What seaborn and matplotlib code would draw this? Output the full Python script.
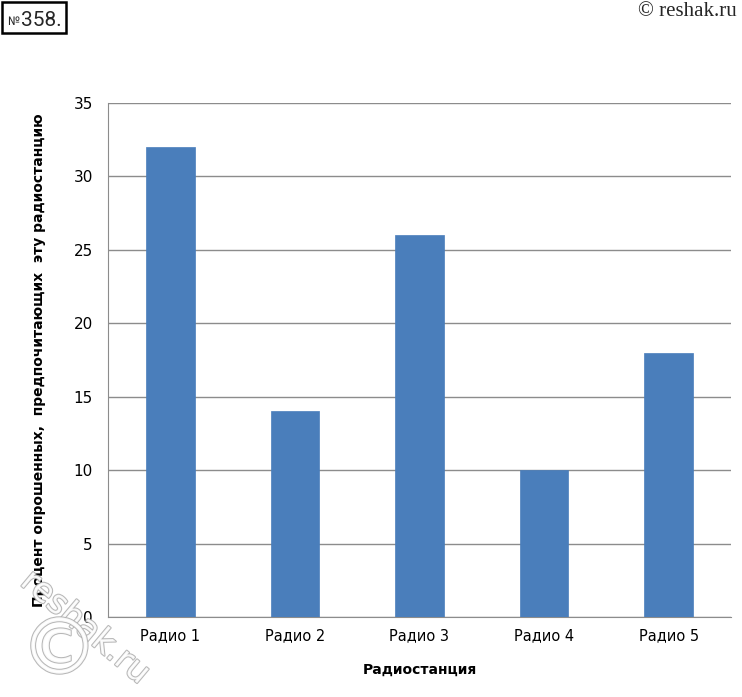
import matplotlib
matplotlib.use("Agg")
import matplotlib.pyplot as plt
import matplotlib.patheffects as pe
from matplotlib.patches import Rectangle
import seaborn as sns
import pandas as pd

# data
stations = ["Радио 1", "Радио 2", "Радио 3", "Радио 4", "Радио 5"]
percent = [32, 14, 26, 10, 18]
y_ticks = [0, 5, 10, 15, 20, 25, 30, 35]

df = pd.DataFrame({"station": stations, "percent": percent})

sns.set_style("white")
plt.rcParams['font.family'] = ['DejaVu Sans']

W, H = 742, 697
fig = plt.figure(figsize=(W / 100, H / 100), dpi=100)
ax = fig.add_axes([0.1456, 0.1148, 0.8394, 0.7374])

sns.barplot(data=df, x="station", y="percent", color="#4a7ebb",
            saturation=1, width=0.39, ax=ax, zorder=3,
            edgecolor="#4a7ebb", linewidth=0.5)

ax.set_ylim(0, 35)
ax.set_xlim(-0.5, 4.5)
ax.set_yticks(y_ticks)
ax.yaxis.grid(True, color="#8c8c8c", linewidth=1)
ax.set_axisbelow(True)

for s in ["top", "right"]:
    ax.spines[s].set_visible(False)
ax.spines["left"].set_color("#8c8c8c")
ax.spines["bottom"].set_color("#8c8c8c")

# category ticks sit between the bars
ax.set_xticks([i - 0.5 for i in range(len(stations) + 1)], minor=True)
ax.tick_params(axis="x", which="minor", length=5, color="#8c8c8c", direction="out")
ax.tick_params(axis="x", which="major", length=0, labelsize=10.5, pad=8,
               labelcolor="black")
ax.tick_params(axis="y", length=5, color="#8c8c8c", direction="out",
               labelsize=11, pad=6, labelcolor="black")

ax.set_xlabel("Радиостанция", fontsize=10, fontweight="bold", labelpad=14,
              color="black")
ax.set_ylabel("Процент опрошенных,  предпочитающих  эту радиостанцию",
              fontsize=10, fontweight="bold", labelpad=20, color="black")

# header box
fig.patches.append(Rectangle((2 / W, 1 - 33 / H), 64 / W, 31 / H,
                             transform=fig.transFigure, fill=False,
                             ec="black", lw=1.8))
fig.text(7 / W, 1 - 25 / H, "№", fontsize=8.5, va="baseline", ha="left",
         family=["Roboto", "DejaVu Sans"])
fig.text(21 / W, 1 - 26 / H, "358.", fontsize=15, va="baseline", ha="left",
         family=["Roboto", "DejaVu Sans"])
fig.text(0.993, 1 - 12 / H, "© reshak.ru", fontsize=15, va="center", ha="right",
         family=["Liberation Serif", "DejaVu Serif"])

# watermark
wm = dict(color="white", alpha=0.9,
          path_effects=[pe.withStroke(linewidth=1.5, foreground="#b0b0b0")])
fig.text(0.115, 0.1, "reshak.ru", fontsize=24, rotation=-40, ha="center",
         va="center", **wm)
fig.text(0.08, 0.065, "©", fontsize=56, ha="center", va="center", **wm)

fig.savefig("out.png", dpi=100)
